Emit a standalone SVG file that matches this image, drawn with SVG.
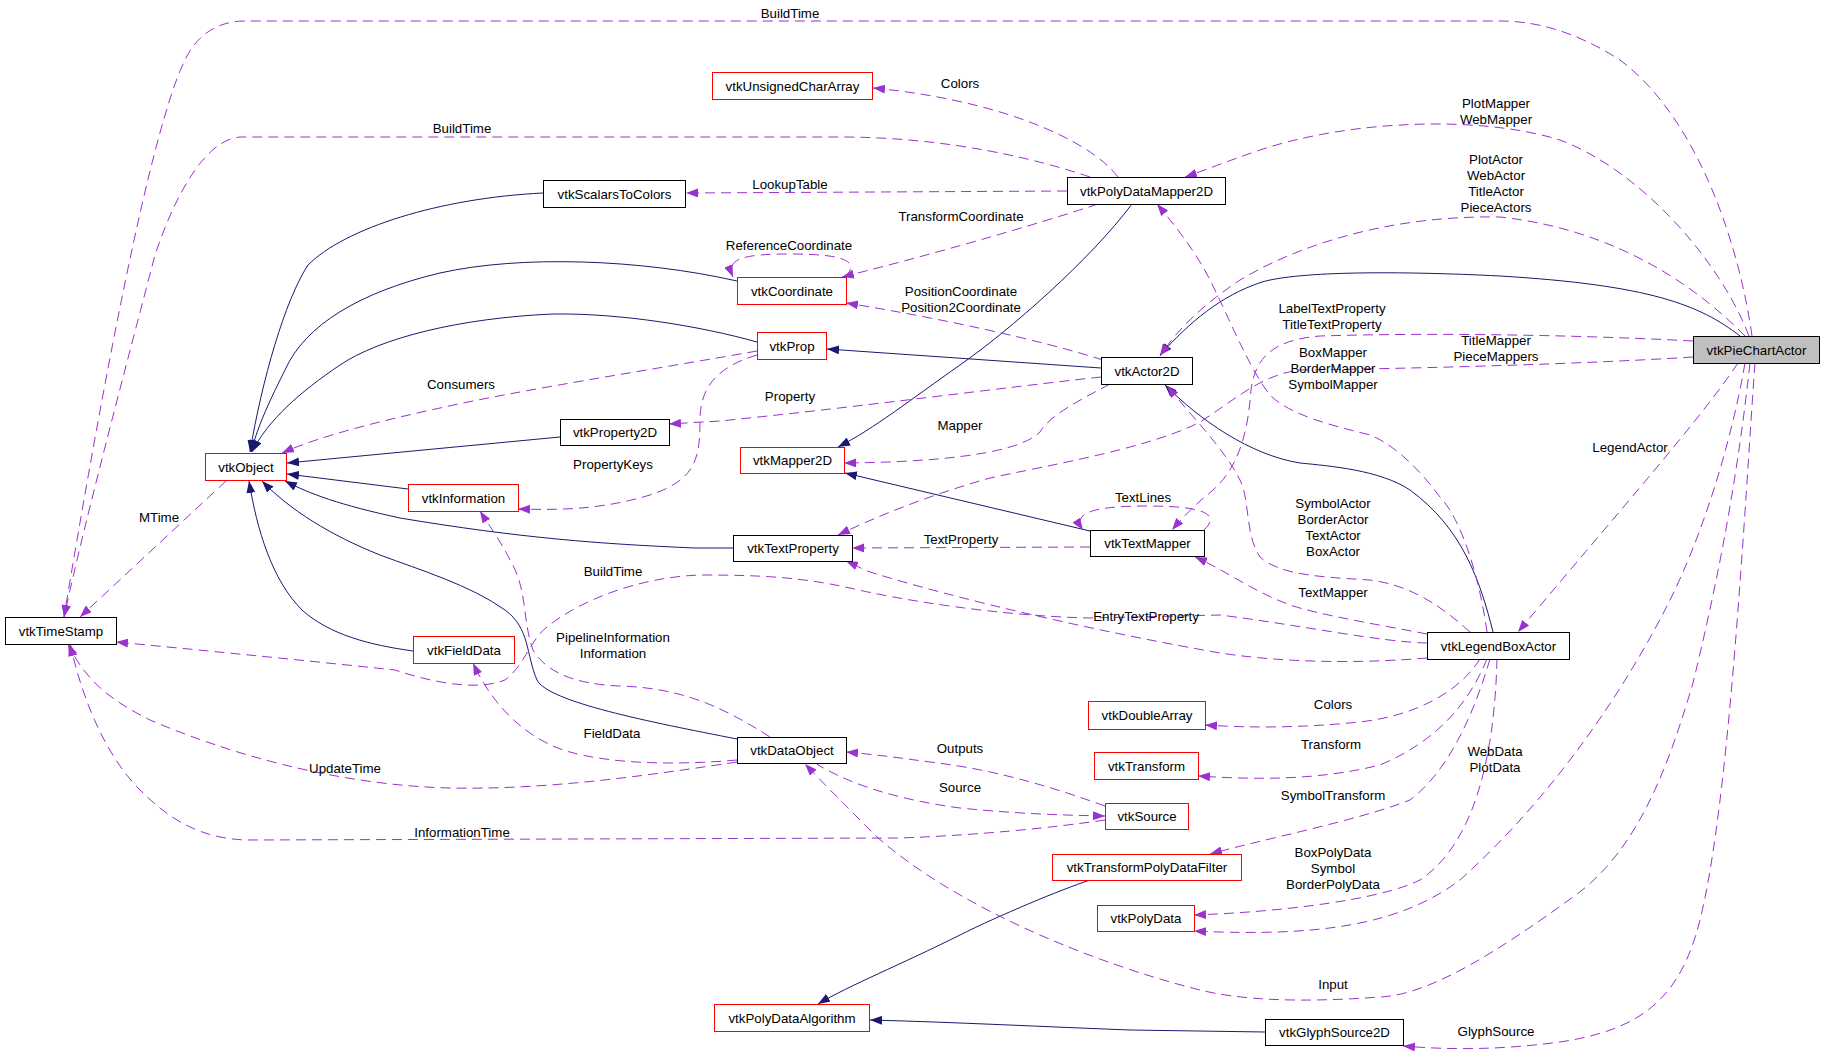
<svg xmlns="http://www.w3.org/2000/svg" width="1824" height="1060" viewBox="0 0 1824 1060">
<style>
.node rect{fill:#ffffff;stroke:#000000;stroke-width:1}
.node.red rect{stroke:#ff0000}
.node.main rect{fill:#bfbfbf}
text{font-family:"Liberation Sans",Arial,sans-serif;font-size:13.3px;text-anchor:middle;fill:#000000}
.inh{fill:none;stroke:#191970;stroke-width:1;marker-end:url(#an)}
.use{fill:none;stroke:#9a32cd;stroke-width:1;stroke-dasharray:10,6;marker-end:url(#ap)}
</style>
<defs>
<marker id="an" viewBox="0 0 12 9" refX="12" refY="4.5" markerWidth="12" markerHeight="9" markerUnits="userSpaceOnUse" orient="auto"><path d="M0,0 L12,4.5 L0,9 z" fill="#191970"/></marker>
<marker id="ap" viewBox="0 0 12 9" refX="12" refY="4.5" markerWidth="12" markerHeight="9" markerUnits="userSpaceOnUse" orient="auto"><path d="M0,0 L12,4.5 L0,9 z" fill="#9a32cd"/></marker>
</defs>
<rect width="1824" height="1060" fill="#ffffff"/>
<g id="connectors">
<path class="inh" d="M1740,336 C1700,305 1650,285 1500,276 C1400,271 1300,271 1262,282 C1220,296 1190,322 1160,355"/>
<path class="inh" d="M1101,368 L827,349"/>
<path class="inh" d="M757,342 C700,326 620,313 553,314 C460,318 380,338 340,365 C300,392 268,420 252,452"/>
<path class="inh" d="M737,281 C640,259 520,255 440,273 C360,292 305,325 285,370 C270,400 258,425 251,452"/>
<path class="inh" d="M543,193 C440,198 345,228 308,265 C285,300 262,380 250,452"/>
<path class="inh" d="M560,437 L287,463"/>
<path class="inh" d="M408,489 L287,474"/>
<path class="inh" d="M733,548 L695,548 C600,544 520,538 400,518 C340,505 310,494 285,481"/>
<path class="inh" d="M413,651 C370,645 330,635 302,610 C272,580 257,530 249,481"/>
<path class="inh" d="M737,739 C650,722 548,702 537,680 C526,655 530,628 505,610 C470,585 420,570 380,555 C330,535 290,510 262,481"/>
<path class="inh" d="M1132,204 C1090,260 1010,330 960,365 C910,400 875,428 838,447"/>
<path class="inh" d="M1090,531 L845,473"/>
<path class="inh" d="M1493,632 C1480,580 1462,528 1410,490 C1380,470 1330,466 1300,463 C1250,455 1200,420 1165,385"/>
<path class="inh" d="M1090,880 C1060,890 1000,915 960,935 C900,965 850,985 818,1004"/>
<path class="inh" d="M1265,1032 L1130,1030 C1050,1027 950,1022 870,1020"/>

<path class="use" d="M1752,336 C1740,250 1700,120 1620,60 C1570,28 1530,21 1500,21 L245,21 C215,21 195,38 185,60 C150,130 100,400 64,617"/>
<path class="use" d="M1090,177 C1040,160 950,137 840,137 L240,137 C205,140 175,195 155,255 C125,370 85,520 64,617"/>
<path class="use" d="M1118,177 C1090,140 1000,100 873,88"/>
<path class="use" d="M1067,191 L686,193"/>
<path class="use" d="M1098,204 C1050,220 950,250 842,277"/>
<path class="use" d="M845,277 C862,260 840,254 790,254 C745,254 725,258 733,277"/>
<path class="use" d="M1103,360 C1040,340 940,318 846,303"/>
<path class="use" d="M757,351 C650,370 520,390 440,408 C380,421 320,436 282,453"/>
<path class="use" d="M757,355 C720,366 700,385 700,420 C700,460 695,480 650,495 C600,510 560,510 518,509"/>
<path class="use" d="M1101,377 C1000,388 850,408 720,421 L669,424"/>
<path class="use" d="M1110,384 C1080,400 1050,415 1040,432 C1020,452 950,462 844,463"/>
<path class="use" d="M226,481 L80,617"/>
<path class="use" d="M1090,547 L852,548"/>
<path class="use" d="M1204,530 C1222,513 1200,506 1147,506 C1090,506 1072,514 1083,530"/>
<path class="use" d="M1749,336 C1720,260 1640,170 1560,140 C1480,115 1350,120 1260,150 C1225,162 1200,172 1185,177"/>
<path class="use" d="M1745,336 C1700,290 1620,230 1500,217 C1380,215 1290,250 1240,280 C1210,300 1180,325 1160,356"/>
<path class="use" d="M1693,341 C1600,336 1450,332 1320,336 C1270,340 1255,360 1251,390 C1248,430 1240,470 1207,495 C1195,505 1183,517 1172,530"/>
<path class="use" d="M1693,357 C1600,363 1450,368 1300,370 C1260,375 1235,400 1200,422 C1150,448 1050,465 990,478 C930,495 880,515 838,535"/>
<path class="use" d="M1487,632 C1480,580 1462,520 1440,497 C1420,470 1395,445 1370,435 C1330,425 1290,415 1270,395 C1250,370 1230,320 1210,280 C1195,250 1172,222 1157,204"/>
<path class="use" d="M1470,632 C1440,605 1410,585 1370,580 C1320,577 1280,575 1260,557 C1245,535 1250,500 1240,480 C1225,450 1195,420 1167,386"/>
<path class="use" d="M1427,634 C1380,625 1320,615 1290,605 C1250,590 1225,570 1195,557"/>
<path class="use" d="M1427,658 C1380,662 1300,665 1220,653 C1100,632 960,600 870,572 C860,568 855,565 846,561"/>
<path class="use" d="M1427,643 C1380,642 1300,625 1220,615 L1090,618 C1000,616 900,600 850,588 C800,577 760,575 700,575 C640,577 580,600 547,627 C530,640 525,665 505,680 C480,690 440,685 395,670 C300,660 200,650 116,642"/>
<path class="use" d="M1738,363 C1700,420 1620,510 1518,632"/>
<path class="use" d="M1480,659 C1460,690 1420,715 1360,722 C1300,728 1250,728 1205,725"/>
<path class="use" d="M1487,659 C1470,700 1440,740 1380,765 C1320,780 1260,780 1198,776"/>
<path class="use" d="M1490,659 C1475,710 1450,770 1410,800 C1360,820 1260,840 1210,854"/>
<path class="use" d="M1497,659 C1495,740 1480,840 1420,880 C1380,900 1280,912 1194,915"/>
<path class="use" d="M1745,363 C1730,450 1700,540 1670,600 C1630,680 1560,790 1460,880 C1400,925 1320,937 1194,931"/>
<path class="use" d="M1750,363 C1735,500 1713,600 1693,683 C1670,760 1640,850 1573,897 C1500,950 1430,995 1380,997 C1300,1003 1240,1000 1200,990 C1100,965 960,910 877,837 C850,810 825,785 805,764"/>
<path class="use" d="M1755,363 C1745,500 1730,800 1700,920 C1680,1000 1640,1030 1560,1042 C1500,1050 1450,1050 1403,1046"/>
<path class="use" d="M770,737 C720,705 680,688 620,686 C570,684 545,670 533,650 C522,620 528,590 510,560 C500,540 490,527 480,511"/>
<path class="use" d="M737,760 C680,765 610,765 563,750 C520,735 490,700 473,663"/>
<path class="use" d="M737,762 C650,775 550,790 450,788 C330,785 220,750 150,720 C110,700 85,680 68,644"/>
<path class="use" d="M1105,820 C1050,828 980,835 900,838 L245,840 C200,838 170,820 140,790 C110,760 85,710 70,644"/>
<path class="use" d="M1105,806 C1060,790 1000,770 930,762 C900,758 880,755 846,752"/>
<path class="use" d="M815,763 C850,785 900,800 960,808 C1020,814 1060,815 1105,816"/>
</g>
<g id="labels">
<text x="790" y="17.5">BuildTime</text>
<text x="462" y="132.5">BuildTime</text>
<text x="960" y="87.5">Colors</text>
<text x="790" y="188.5">LookupTable</text>
<text x="961" y="220.5">TransformCoordinate</text>
<text x="789" y="249.5">ReferenceCoordinate</text>
<text x="961" y="295.5">PositionCoordinate</text>
<text x="961" y="311.5">Position2Coordinate</text>
<text x="1496" y="107.5">PlotMapper</text>
<text x="1496" y="123.5">WebMapper</text>
<text x="1496" y="163.5">PlotActor</text>
<text x="1496" y="179.5">WebActor</text>
<text x="1496" y="195.5">TitleActor</text>
<text x="1496" y="211.5">PieceActors</text>
<text x="1332" y="312.5">LabelTextProperty</text>
<text x="1332" y="328.5">TitleTextProperty</text>
<text x="1333" y="356.5">BoxMapper</text>
<text x="1333" y="372.5">BorderMapper</text>
<text x="1333" y="388.5">SymbolMapper</text>
<text x="1496" y="344.5">TitleMapper</text>
<text x="1496" y="360.5">PieceMappers</text>
<text x="461" y="388.5">Consumers</text>
<text x="790" y="400.5">Property</text>
<text x="960" y="429.5">Mapper</text>
<text x="613" y="468.5">PropertyKeys</text>
<text x="1143" y="501.5">TextLines</text>
<text x="159" y="521.5">MTime</text>
<text x="1333" y="507.5">SymbolActor</text>
<text x="1333" y="523.5">BorderActor</text>
<text x="1333" y="539.5">TextActor</text>
<text x="1333" y="555.5">BoxActor</text>
<text x="961" y="543.5">TextProperty</text>
<text x="613" y="575.5">BuildTime</text>
<text x="1333" y="596.5">TextMapper</text>
<text x="1146" y="620.5">EntryTextProperty</text>
<text x="613" y="641.5">PipelineInformation</text>
<text x="613" y="657.5">Information</text>
<text x="1630" y="451.5">LegendActor</text>
<text x="1333" y="708.5">Colors</text>
<text x="612" y="737.5">FieldData</text>
<text x="960" y="752.5">Outputs</text>
<text x="1331" y="748.5">Transform</text>
<text x="1495" y="755.5">WebData</text>
<text x="1495" y="771.5">PlotData</text>
<text x="345" y="772.5">UpdateTime</text>
<text x="960" y="791.5">Source</text>
<text x="1333" y="799.5">SymbolTransform</text>
<text x="462" y="836.5">InformationTime</text>
<text x="1333" y="856.5">BoxPolyData</text>
<text x="1333" y="872.5">Symbol</text>
<text x="1333" y="888.5">BorderPolyData</text>
<text x="1333" y="988.5">Input</text>
<text x="1496" y="1035.5">GlyphSource</text>
</g>
<g id="vtkPieChartActor" class="node main"><rect x="1693.5" y="336.5" width="126" height="27"/><text x="1756.5" y="354.5">vtkPieChartActor</text></g>
<g id="vtkUnsignedCharArray" class="node red"><rect x="712.5" y="72.5" width="160" height="27"/><text x="792.5" y="90.5">vtkUnsignedCharArray</text></g>
<g id="vtkPolyDataMapper2D" class="node"><rect x="1067.5" y="177.5" width="158" height="27"/><text x="1146.5" y="195.5">vtkPolyDataMapper2D</text></g>
<g id="vtkScalarsToColors" class="node"><rect x="543.5" y="180.5" width="142" height="27"/><text x="614.5" y="198.5">vtkScalarsToColors</text></g>
<g id="vtkCoordinate" class="node red"><rect x="737.5" y="277.5" width="109" height="27"/><text x="792" y="295.5">vtkCoordinate</text></g>
<g id="vtkProp" class="node red"><rect x="757.5" y="332.5" width="69" height="27"/><text x="792" y="350.5">vtkProp</text></g>
<g id="vtkActor2D" class="node"><rect x="1101.5" y="357.5" width="91" height="27"/><text x="1147" y="375.5">vtkActor2D</text></g>
<g id="vtkObject" class="node red"><rect x="205.5" y="453.5" width="81" height="27"/><text x="246" y="471.5">vtkObject</text></g>
<g id="vtkProperty2D" class="node"><rect x="560.5" y="419.5" width="109" height="26"/><text x="615" y="437">vtkProperty2D</text></g>
<g id="vtkMapper2D" class="node red"><rect x="740.5" y="447.5" width="104" height="26"/><text x="792.5" y="465">vtkMapper2D</text></g>
<g id="vtkInformation" class="node red"><rect x="408.5" y="484.5" width="110" height="27"/><text x="463.5" y="502.5">vtkInformation</text></g>
<g id="vtkTextProperty" class="node"><rect x="733.5" y="535.5" width="119" height="26"/><text x="793" y="553">vtkTextProperty</text></g>
<g id="vtkTextMapper" class="node"><rect x="1090.5" y="530.5" width="114" height="26"/><text x="1147.5" y="548">vtkTextMapper</text></g>
<g id="vtkTimeStamp" class="node"><rect x="5.5" y="617.5" width="111" height="27"/><text x="61" y="635.5">vtkTimeStamp</text></g>
<g id="vtkFieldData" class="node red"><rect x="413.5" y="636.5" width="101" height="27"/><text x="464" y="654.5">vtkFieldData</text></g>
<g id="vtkLegendBoxActor" class="node"><rect x="1427.5" y="632.5" width="142" height="27"/><text x="1498.5" y="650.5">vtkLegendBoxActor</text></g>
<g id="vtkDoubleArray" class="node red"><rect x="1088.5" y="701.5" width="117" height="28"/><text x="1147" y="720">vtkDoubleArray</text></g>
<g id="vtkTransform" class="node red"><rect x="1094.5" y="752.5" width="104" height="27"/><text x="1146.5" y="770.5">vtkTransform</text></g>
<g id="vtkSource" class="node red"><rect x="1105.5" y="803.5" width="83" height="26"/><text x="1147" y="821">vtkSource</text></g>
<g id="vtkTransformPolyDataFilter" class="node red"><rect x="1052.5" y="854.5" width="189" height="26"/><text x="1147" y="872">vtkTransformPolyDataFilter</text></g>
<g id="vtkPolyData" class="node red"><rect x="1097.5" y="905.5" width="97" height="26"/><text x="1146" y="923">vtkPolyData</text></g>
<g id="vtkDataObject" class="node"><rect x="737.5" y="737.5" width="109" height="26"/><text x="792" y="755">vtkDataObject</text></g>
<g id="vtkPolyDataAlgorithm" class="node red"><rect x="714.5" y="1004.5" width="155" height="27"/><text x="792" y="1022.5">vtkPolyDataAlgorithm</text></g>
<g id="vtkGlyphSource2D" class="node"><rect x="1265.5" y="1019.5" width="138" height="26"/><text x="1334.5" y="1037">vtkGlyphSource2D</text></g>
</svg>
